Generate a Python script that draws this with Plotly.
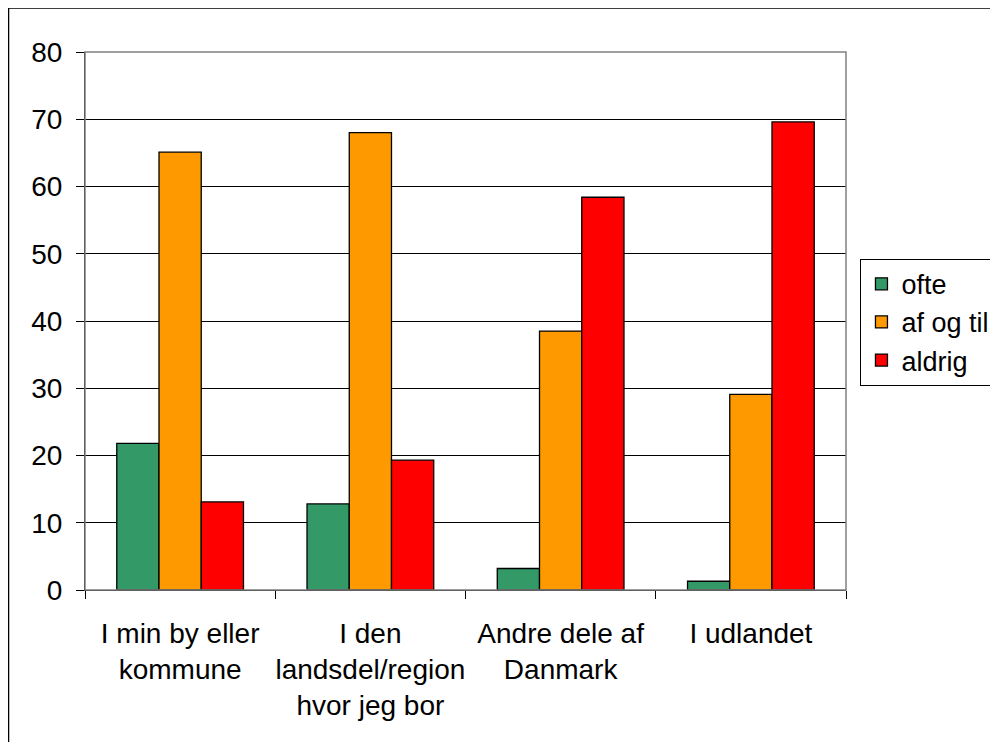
import plotly.graph_objects as go

# Survey answers per place (percent)
categories = ['I min by eller<br>kommune',
              'I den<br>landsdel/region<br>hvor jeg bor',
              'Andre dele af<br>Danmark',
              'I udlandet']
ofte = [21.8, 12.8, 3.2, 1.3]
af_og_til = [65.1, 68.0, 38.5, 29.1]
aldrig = [13.1, 19.3, 58.4, 69.6]
y_ticks = [0, 10, 20, 30, 40, 50, 60, 70, 80]

series = [('ofte', ofte, '#339966'),
          ('af og til', af_og_til, '#FF9900'),
          ('aldrig', aldrig, '#FF0000')]

font_family = 'Arial, Liberation Sans, sans-serif'

fig = go.Figure()
for name, vals, color in series:
    fig.add_trace(go.Bar(x=categories, y=vals, name=name,
                         marker=dict(color=color,
                                     line=dict(color='black', width=1.3))))

# outer chart border and plot area frame (gray top/right)
# page has an 8px body margin, so the figure is 990x734
fig.add_shape(type='rect', xref='paper', yref='paper',
              x0=-0.1005, x1=1.21, y0=-0.29, y1=1.0818,
              line=dict(color='black', width=1.5), layer='below')
fig.add_shape(type='rect', xref='paper', yref='paper',
              x0=0, x1=1, y0=0, y1=1,
              line=dict(color='#808080', width=1.5), layer='above')

fig.update_layout(
    width=990, height=734,
    margin=dict(l=77, r=152, t=44, b=151.5, autoexpand=False),
    paper_bgcolor='white', plot_bgcolor='white',
    barmode='group', bargap=0.334, bargroupgap=0,
    font=dict(family=font_family, size=28, color='black'),
    showlegend=True,
    legend=dict(x=1.019, y=0.6156, xanchor='left', yanchor='top',
                bordercolor='black', borderwidth=1,
                font=dict(size=27, color='black'),
                bgcolor='white'),
    xaxis=dict(tickson='boundaries', ticks='outside', ticklen=8,
               tickcolor='black', showline=True, linecolor='black',
               linewidth=1, showgrid=False, ticklabelstandoff=18,
               tickangle=0, automargin=False,
               tickfont=dict(size=28)),
    yaxis=dict(range=[0, 80], tickvals=y_ticks, ticks='outside',
               ticklen=8, tickcolor='black', showline=True,
               linecolor='black', linewidth=1, showgrid=True,
               gridcolor='black', gridwidth=1, zeroline=False,
               ticklabelstandoff=8, automargin=False,
               tickfont=dict(size=28)),
)

fig.write_html('out.html')
